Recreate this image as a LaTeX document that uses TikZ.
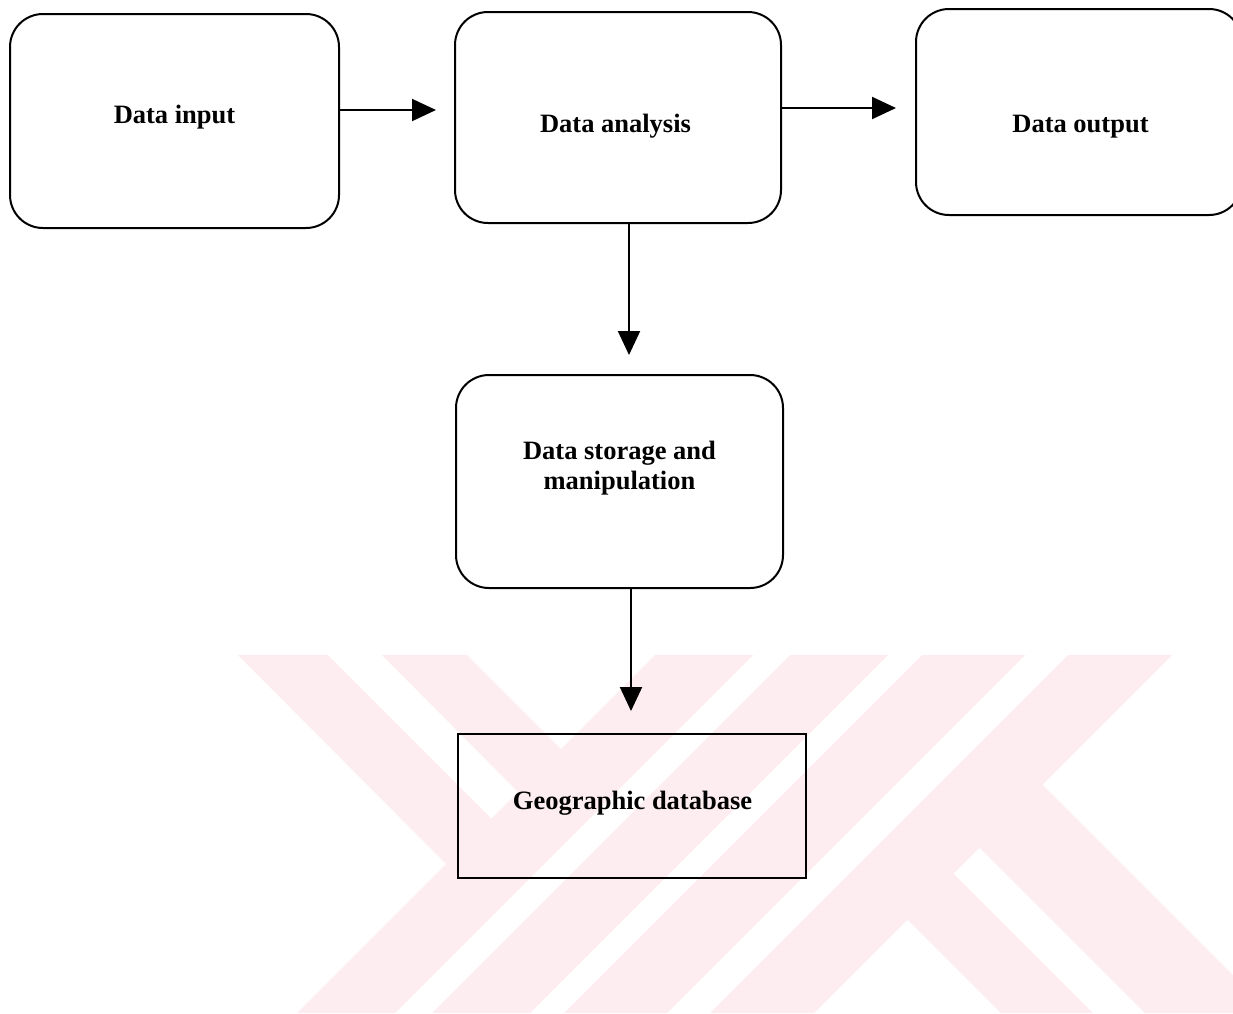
\documentclass[tikz,border=0pt]{standalone}
\usepackage{fontspec}
\setmainfont{Liberation Serif}
\usetikzlibrary{arrows.meta}
\definecolor{wm}{RGB}{253,237,241}
\tikzset{
  rbox/.style={draw=black, line width=2pt, rounded corners=33pt, inner sep=0pt},
  sbox/.style={draw=black, line width=2pt, inner sep=0pt},
  lab/.style={anchor=base, inner sep=0pt, font=\fontsize{26.5}{30}\selectfont\bfseries},
  arr/.style={line width=2pt, -{Triangle[length=24pt,width=22pt]}},
  wmark/.style={fill=wm, draw=none, nonzero rule}
}
\begin{document}
\begin{tikzpicture}[x=1pt, y=-1pt]
\useasboundingbox (0,0) rectangle (1233,1013);
\clip (0,0) rectangle (1233,1013);
\fill[white] (0,0) rectangle (1233,1013);
% watermark (one fill; legs overlap the bands so no seams show)
\fill[wmark]
  (238,655) -- (328,655) -- (500,827) -- (454,872) -- cycle
  (382,655) -- (467,655) -- (570,758) -- (526,800) -- cycle
  (655,655) -- (753,655) -- (395,1013) -- (297,1013) -- cycle
  (790,655) -- (888,655) -- (530,1013) -- (432,1013) -- cycle
  (922,655) -- (1025,655) -- (667,1013) -- (564,1013) -- cycle
  (1068,655) -- (1172,655) -- (814,1013) -- (710,1013) -- cycle
  (900,912) -- (946,866) -- (1093,1013) -- (1001,1013) -- cycle
  (972,840) -- (1035,777) -- (1271,1013) -- (1145,1013) -- cycle;
% boxes
\node[rbox, minimum width=329pt, minimum height=214pt] (input) at (174.5,121) {};
\node[rbox, minimum width=326pt, minimum height=211pt] (analysis) at (618,117.5) {};
\node[rbox, minimum width=326pt, minimum height=206pt] (output) at (1079,112) {};
\node[rbox, minimum width=327pt, minimum height=213pt] (storage) at (619.5,481.5) {};
\node[sbox, minimum width=348pt, minimum height=144pt] (geo) at (632,806) {};
% labels
\node[lab] (tin) at (174.5,123) {Data input};
\node[lab] (tan) at (615.5,132) {Data analysis};
\node[lab] (tout) at (1080.5,132) {Data output};
\node[lab] (tst1) at (619.5,459) {Data storage and};
\node[lab] (tst2) at (619.5,489) {manipulation};
\node[lab] (tgeo) at (632.5,809) {Geographic database};
% connectors
\draw[arr, shorten >=18pt] ([yshift=11pt]input.east) -- ([yshift=7.5pt]analysis.west);
\draw[arr, shorten >=19pt] ([yshift=9.5pt]analysis.east) -- ([yshift=4pt]output.west);
\draw[arr, shorten >=19pt] ([xshift=11pt]analysis.south) -- ([xshift=11pt]analysis.south |- storage.north);
\draw[arr, shorten >=22pt] ([xshift=11.5pt]storage.south) -- ([xshift=11.5pt]storage.south |- geo.north);
\end{tikzpicture}
\end{document}
